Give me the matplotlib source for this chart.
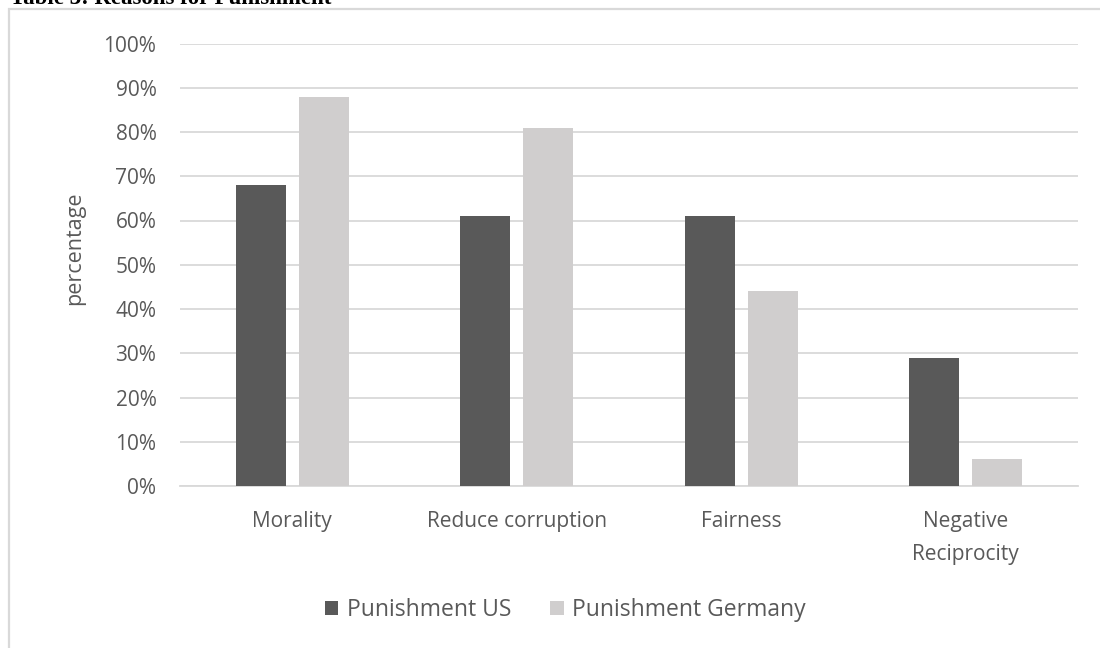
import numpy as np
import matplotlib
matplotlib.use('Agg')
from matplotlib import pyplot as plt
from matplotlib.patches import Rectangle

categories = ['Morality', 'Reduce corruption', 'Fairness', 'Negative\nReciprocity']
punishment_us = [68, 61, 61, 29]
punishment_germany = [88, 81, 44, 6]
y_ticks = list(range(0, 101, 10))

plt.rcParams['font.family'] = ['Open Sans', 'DejaVu Sans']
text_color = '#595959'

fig = plt.figure(figsize=(11, 6.48), dpi=100)

# light frame around the chart area (runs off the right and bottom edges)
fig.patches.append(Rectangle((9 / 1100, -0.1), 1.2, 1 - 9 / 648 + 0.1,
                             transform=fig.transFigure, fill=False,
                             edgecolor='#D9D9D9', linewidth=1.6))

# caption sitting above the frame, mostly clipped by the top edge
fig.text(10 / 1100, 1 - 4 / 648, 'Table 3: Reasons for Punishment',
         fontfamily='Liberation Serif', fontweight='bold', fontsize=16.5,
         va='baseline', ha='left', color='black')

ax = fig.add_axes([180 / 1100, 1 - 486 / 648, 898 / 1100, (486 - 43.5) / 648])

x = np.arange(len(categories))
width = 0.222
gap = 0.029
ax.bar(x - width / 2 - gap, punishment_us, width, color='#595959', label='Punishment US', zorder=3)
ax.bar(x + width / 2 + gap, punishment_germany, width, color='#D0CECE', label='Punishment Germany', zorder=3)

ax.set_xlim(-0.5, len(categories) - 0.5)
ax.set_ylim(0, 100)
ax.set_yticks(y_ticks)
ax.set_yticklabels([f'{t}%' for t in y_ticks])
ax.yaxis.grid(True, color='#D9D9D9', linewidth=1.3, zorder=0)
ax.set_xticks(x)
ax.set_xticklabels(categories, linespacing=1.75)

for side in ['top', 'right', 'left']:
    ax.spines[side].set_visible(False)
ax.spines['bottom'].set_color('#D9D9D9')
ax.spines['bottom'].set_linewidth(1.3)
ax.tick_params(axis='both', length=0, labelsize=15, labelcolor=text_color)
ax.tick_params(axis='x', pad=18)
ax.tick_params(axis='y', pad=17)

ax.set_ylabel('percentage', fontsize=15.5, color=text_color)
ax.yaxis.set_label_coords(-0.106, 0.538)

fig.legend(loc='center', bbox_to_anchor=(565 / 1100, 1 - 610 / 648), ncol=2,
           frameon=False, fontsize=16.5, labelcolor=text_color,
           handlelength=0.6, handleheight=0.6, handletextpad=0.35, columnspacing=1.7)

fig.savefig('out.png', dpi=100)
